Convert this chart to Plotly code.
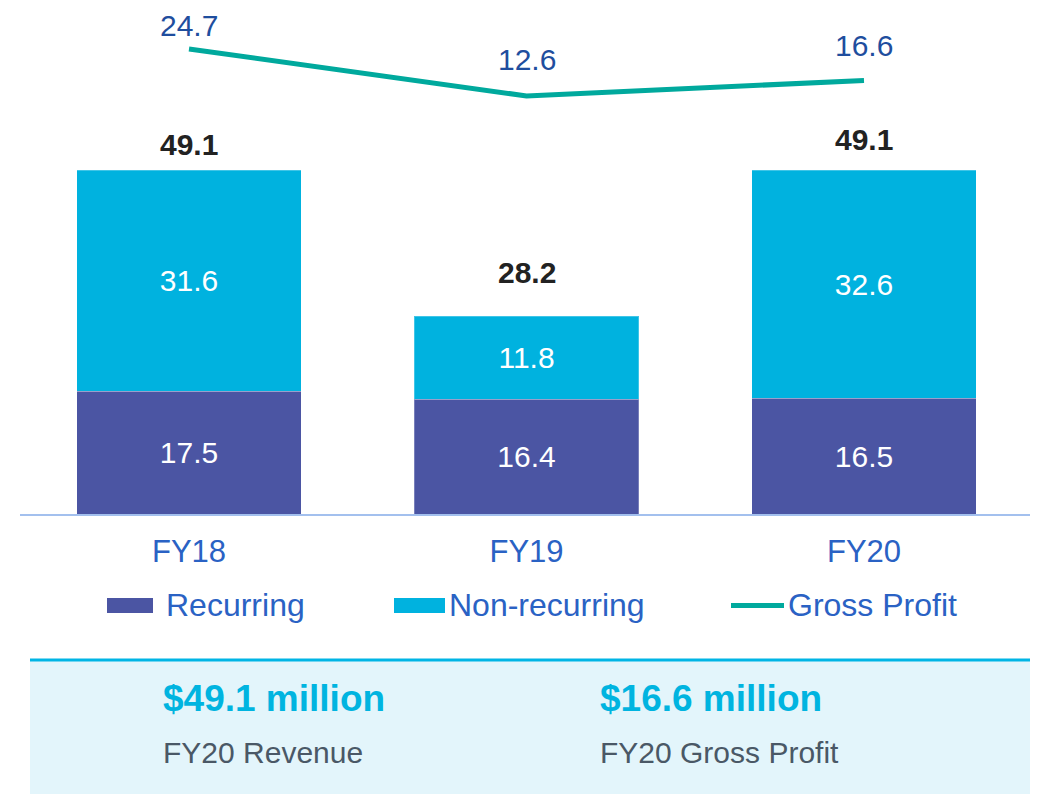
import plotly.graph_objects as go

# ---- data ----
years = ["FY18", "FY19", "FY20"]
recurring = [17.5, 16.4, 16.5]
non_recurring = [31.6, 11.8, 32.6]
revenue_total = [49.1, 28.2, 49.1]
gross_profit = [24.7, 12.6, 16.6]

# ---- styling ----
OFF = 8  # page body margin
W, H = 1038 - OFF, 794 - OFF
FONT = "Arial, Liberation Sans, sans-serif"
C_REC = "#4B55A3"
C_NON = "#00B2DF"
C_GP = "#00A99D"
C_BLUE_TXT = "#2A62C4"
C_GP_TXT = "#1F4E9E"


def px(x):
    return (x - OFF) / W


def py(y):
    return 1 - (y - OFF) / H


fig = go.Figure()

fig.add_trace(go.Bar(
    x=years, y=recurring, name="Recurring",
    marker=dict(color=C_REC, line=dict(width=1, color="rgba(255,255,255,0.25)")),
    text=[f"{v:.1f}" for v in recurring], textposition="inside",
    insidetextanchor="middle",
    textfont=dict(family=FONT, size=30, color="white"),
    showlegend=False,
))
fig.add_trace(go.Bar(
    x=years, y=non_recurring, name="Non-recurring",
    marker=dict(color=C_NON, line=dict(width=1, color="rgba(255,255,255,0.25)")),
    text=[f"{v:.1f}" for v in non_recurring], textposition="inside",
    insidetextanchor="middle",
    textfont=dict(family=FONT, size=30, color="white"),
    showlegend=False,
))
fig.add_trace(go.Scatter(
    x=years, y=gross_profit, name="Gross Profit", yaxis="y2",
    mode="lines",
    line=dict(color=C_GP, width=5),
    cliponaxis=False,
    showlegend=False,
))

# gross profit labels above the line
gp_shift = [23, 36, 35]
for yr, v, sh in zip(years, gross_profit, gp_shift):
    fig.add_annotation(
        x=yr, y=v, xref="x", yref="y2", text=f"{v:.1f}",
        showarrow=False, yanchor="middle", yshift=sh,
        font=dict(family=FONT, size=30, color=C_GP_TXT),
    )

# total labels above bars
total_shift = [7, 25, 12]
for yr, tot, sh in zip(years, revenue_total, total_shift):
    fig.add_annotation(
        x=yr, y=tot, xref="x", yref="y", text=f"<b>{tot:.1f}</b>",
        showarrow=False, yanchor="bottom", yshift=sh,
        font=dict(family=FONT, size=30, color="#222222"),
    )

# manual legend
shapes = [
    dict(type="rect", xref="paper", yref="paper", x0=px(107), x1=px(153),
         y0=py(613), y1=py(598), fillcolor=C_REC, line=dict(width=0)),
    dict(type="rect", xref="paper", yref="paper", x0=px(394), x1=px(445),
         y0=py(613), y1=py(598), fillcolor=C_NON, line=dict(width=0)),
    dict(type="line", xref="paper", yref="paper", x0=px(731), x1=px(784),
         y0=py(605.5), y1=py(605.5), line=dict(color=C_GP, width=5)),
    # bottom summary box
    dict(type="rect", xref="paper", yref="paper", x0=px(30), x1=px(1036),
         y0=0, y1=py(661), fillcolor="#E3F5FB", line=dict(width=0), layer="below"),
    dict(type="line", xref="paper", yref="paper", x0=px(30), x1=px(1036),
         y0=py(660), y1=py(660), line=dict(color="#00B5E5", width=3)),
]
legend_items = [("Recurring", 164), ("Non-recurring", 447), ("Gross Profit", 786)]
for label, x in legend_items:
    fig.add_annotation(
        x=px(x), y=py(605), xref="paper", yref="paper", text=label,
        showarrow=False, xanchor="left", yanchor="middle",
        font=dict(family=FONT, size=32, color=C_BLUE_TXT),
    )

# summary texts
summary = [
    (f"<b>${revenue_total[-1]:.1f} million</b>", f"{years[-1]} Revenue", 161),
    (f"<b>${gross_profit[-1]:.1f} million</b>", f"{years[-1]} Gross Profit", 598),
]
for big, small, x in summary:
    fig.add_annotation(
        x=px(x), y=py(698), xref="paper", yref="paper", text=big,
        showarrow=False, xanchor="left", yanchor="middle",
        font=dict(family=FONT, size=37, color="#00B4E0"),
    )
    fig.add_annotation(
        x=px(x), y=py(752), xref="paper", yref="paper", text=small,
        showarrow=False, xanchor="left", yanchor="middle",
        font=dict(family=FONT, size=30, color="#4A5866"),
    )

bottom_px = 514
top_px = OFF
fig.update_layout(
    width=W, height=H,
    margin=dict(l=0, r=0, t=0, b=0),
    paper_bgcolor="white", plot_bgcolor="white",
    barmode="stack", bargap=0.336,
    shapes=shapes,
    xaxis=dict(
        domain=[px(20.25), px(1032.75)], range=[-0.5, 2.5],
        showline=True, linecolor="#A3C0EE", linewidth=2,
        showgrid=False, zeroline=False, ticks="",
        ticklabelstandoff=9,
        tickfont=dict(family=FONT, size=31, color=C_BLUE_TXT),
    ),
    yaxis=dict(
        domain=[py(bottom_px), 1], range=[0, (bottom_px - top_px) / 7.006],
        visible=False, showgrid=False, zeroline=False,
    ),
    yaxis2=dict(
        domain=[py(bottom_px), 1], overlaying="y",
        range=[-(bottom_px - 144.9) / 3.884, (144.9 - top_px) / 3.884],
        visible=False, showgrid=False, zeroline=False,
    ),
)

fig.write_html("out.html")
